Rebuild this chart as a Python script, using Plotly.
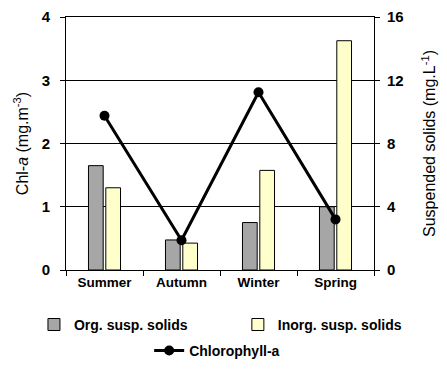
import plotly.graph_objects as go

seasons = ["Summer", "Autumn", "Winter", "Spring"]
org_solids = [6.6, 1.9, 3.0, 4.0]
inorg_solids = [5.2, 1.7, 6.3, 14.5]
chlorophyll = [2.44, 0.47, 2.81, 0.80]

FONT = "Liberation Sans, Arial, sans-serif"

fig = go.Figure()
fig.add_trace(go.Bar(
    x=seasons, y=org_solids, name="Org. susp. solids",
    marker=dict(color="#A6A6A6", line=dict(color="black", width=1)),
    yaxis="y", legend="legend",
))
fig.add_trace(go.Bar(
    x=seasons, y=inorg_solids, name="Inorg. susp. solids",
    marker=dict(color="#FFFFCC", line=dict(color="black", width=1)),
    yaxis="y", legend="legend2",
))
fig.add_trace(go.Scatter(
    x=seasons, y=chlorophyll, name="Chlorophyll-a", mode="lines+markers",
    line=dict(color="black", width=3), marker=dict(color="black", size=10),
    yaxis="y2", legend="legend3",
))

legend_common = dict(
    orientation="h", xanchor="left", yanchor="middle",
    font=dict(family=FONT, size=14, color="black", weight="bold"),
    bgcolor="rgba(0,0,0,0)",
)

fig.update_layout(
    width=447, height=369,
    margin=dict(l=66, r=73, t=17, b=99, autoexpand=False),
    showlegend=True,
    paper_bgcolor="white", plot_bgcolor="white",
    barmode="group", bargap=0.55, bargroupgap=0.15,
    font=dict(family=FONT, color="black"),
    xaxis=dict(
        showline=True, linecolor="black", linewidth=1, mirror=True,
        ticks="outside", ticklen=5, tickcolor="black", tickson="boundaries",
        tickfont=dict(family=FONT, size=13.5, color="black", weight="bold"),
        showgrid=False,
    ),
    yaxis=dict(
        side="right", range=[0, 16], tickvals=[0, 4, 8, 12, 16],
        showline=True, linecolor="black", linewidth=1,
        ticks="outside", ticklen=5, tickcolor="black", ticklabelstandoff=4,
        tickfont=dict(family=FONT, size=15, color="black", weight="bold"),
        showgrid=True, gridcolor="black", gridwidth=1, zeroline=False,
        title=dict(text="Suspended solids (mg.L<sup>-1</sup>)",
                   font=dict(family=FONT, size=16, color="black"), standoff=21),
    ),
    yaxis2=dict(
        overlaying="y", side="left", range=[0, 4], tickvals=[0, 1, 2, 3, 4],
        showline=True, linecolor="black", linewidth=1,
        ticks="outside", ticklen=5, tickcolor="black", ticklabelstandoff=7,
        tickfont=dict(family=FONT, size=15, color="black", weight="bold"),
        showgrid=False, zeroline=False,
        title=dict(text="Chl-<i>a</i> (mg.m<sup>-3</sup>)",
                   font=dict(family=FONT, size=16, color="black"), standoff=9),
    ),
    legend=dict(x=-0.104, y=-0.217, **legend_common),
    legend2=dict(x=0.558, y=-0.217, **legend_common),
    legend3=dict(x=0.270, y=-0.32, **legend_common),
)

fig.write_html(
    "out.html",
    config={"displayModeBar": False},
    post_script="document.body.style.margin='0';document.body.style.overflow='hidden';",
)
